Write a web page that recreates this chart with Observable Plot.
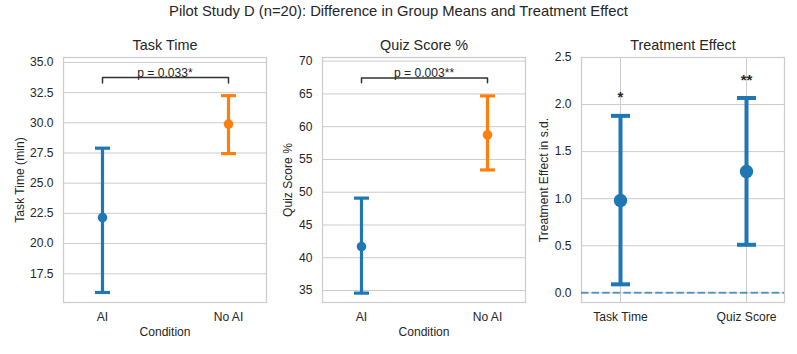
<!DOCTYPE html>
<html><head><meta charset="utf-8">
<script src="https://cdn.jsdelivr.net/npm/d3@7"></script>
<script src="https://cdn.jsdelivr.net/npm/@observablehq/plot@0.6"></script>
<style>
body{margin:0;background:#fff;font-family:"Liberation Sans",Arial,sans-serif;}
#wrap{position:relative;width:797px;height:354px;overflow:hidden;background:#fff;}
#title{position:absolute;left:0;top:3px;width:797px;text-align:center;font-size:14.8px;color:#262626;}
.panel{position:absolute;top:30px;}
</style></head><body>
<div id="wrap"><div id="title">Pilot Study D (n=20): Difference in Group Means and Treatment Effect</div></div>
<script>
// ---- data ----
const conditions = ["AI", "No AI"];
const condColors = ["#1f77b4", "#ff7f0e"];
const taskMean = [22.15, 29.9];
const taskLow = [15.95, 27.45];
const taskHigh = [27.9, 32.25];
const quizMean = [41.7, 58.75];
const quizLow = [34.6, 53.4];
const quizHigh = [49.1, 64.7];
const effects = ["Task Time", "Quiz Score"];
const effMean = [0.98, 1.29];
const effLow = [0.09, 0.51];
const effHigh = [1.88, 2.07];
const effStars = ["*", "**"];
const starY = [2.08, 2.26];
const taskTicks = [17.5, 20, 22.5, 25, 27.5, 30, 32.5, 35];
const quizTicks = [35, 40, 45, 50, 55, 60, 65, 70];
const effTicks = [0, 0.5, 1, 1.5, 2, 2.5];
const pTask = "p = 0.033*";
const pQuiz = "p = 0.003**";
const taskBracket = [33.3, 33.75];
const quizBracket = [66.7, 67.45];

const FONT = "'Liberation Sans', Arial, sans-serif";
const GRID = "#cccccc";
const FS = 12.1;
const cap = {draw(ctx, size) { const w = Math.sqrt(size / Math.PI); ctx.moveTo(-w, 0); ctx.lineTo(w, 0); }};

function groupPanel({means, lows, highs, ticks, domain, fmt, title, ylabel, ylabelDx, pText, bracket, width, marginLeft, marginRight, left}) {
  const rows = conditions.map((c, i) => ({c, m: means[i], lo: lows[i], hi: highs[i], col: condColors[i]}));
  const br = [
    {x: conditions[0], y: bracket[0]}, {x: conditions[0], y: bracket[1]},
    {x: conditions[1], y: bracket[1]}, {x: conditions[1], y: bracket[0]}
  ];
  const p = Plot.plot({
    width, height: 324, marginLeft, marginRight, marginTop: 27, marginBottom: 52,
    style: {fontFamily: FONT, fontSize: FS + "px", color: "#262626", background: "transparent", overflow: "visible"},
    x: {type: "point", domain: conditions, padding: 0.3},
    y: {domain},
    marks: [
      Plot.gridY(ticks, {stroke: GRID, strokeOpacity: 1, strokeWidth: 1}),
      Plot.frame({stroke: GRID, strokeWidth: 1.25}),
      Plot.axisY(ticks, {tickSize: 0, tickPadding: 10, tickFormat: fmt, label: null, fontSize: FS}),
      Plot.axisX({tickSize: 0, tickPadding: 10, label: null, fontSize: FS}),
      Plot.ruleX(rows, {x: "c", y1: "lo", y2: "hi", stroke: "col", strokeWidth: 3.2}),
      Plot.dot(rows, {x: "c", y: "lo", symbol: cap, r: 7.5, stroke: "col", strokeWidth: 3.2, fill: "none"}),
      Plot.dot(rows, {x: "c", y: "hi", symbol: cap, r: 7.5, stroke: "col", strokeWidth: 3.2, fill: "none"}),
      Plot.dot(rows, {x: "c", y: "m", r: 4.8, fill: "col", stroke: "none"}),
      Plot.line(br, {x: "x", y: "y", stroke: "#333333", strokeWidth: 1.5}),
      Plot.text([pText], {text: d => d, y: [bracket[1]], frameAnchor: "middle", lineAnchor: "bottom", dy: -1, fontSize: FS}),
      Plot.text([title], {text: d => d, frameAnchor: "top", dy: -12, lineAnchor: "middle", fontSize: 14.4}),
      Plot.text([ylabel], {text: d => d, frameAnchor: "left", dx: ylabelDx, rotate: -90, textAnchor: "middle", lineAnchor: "middle", fontSize: FS}),
      Plot.text(["Condition"], {text: d => d, frameAnchor: "bottom", dy: 30, lineAnchor: "middle", fontSize: FS})
    ]
  });
  p.classList.add("panel");
  p.style.left = left + "px";
  return p;
}

const wrap = document.getElementById("wrap");
wrap.appendChild(groupPanel({
  means: taskMean, lows: taskLow, highs: taskHigh, ticks: taskTicks, domain: [15.12, 35.41],
  fmt: d => d.toFixed(1), title: "Task Time", ylabel: "Task Time (min)", ylabelDx: -43,
  pText: pTask, bracket: taskBracket, width: 270, marginLeft: 63, marginRight: 4, left: 0
}));
wrap.appendChild(groupPanel({
  means: quizMean, lows: quizLow, highs: quizHigh, ticks: quizTicks, domain: [33.17, 70.56],
  fmt: d => d.toFixed(0), title: "Quiz Score %", ylabel: "Quiz Score %", ylabelDx: -34,
  pText: pQuiz, bracket: quizBracket, width: 260, marginLeft: 52, marginRight: 5, left: 270
}));

// Treatment effect panel
const effRows = effects.map((e, i) => ({e, m: effMean[i], lo: effLow[i], hi: effHigh[i], s: effStars[i], sy: starY[i]}));
const eff = Plot.plot({
  width: 267, height: 324, marginLeft: 51, marginRight: 13, marginTop: 27, marginBottom: 52,
  style: {fontFamily: FONT, fontSize: FS + "px", color: "#262626", background: "transparent", overflow: "visible"},
  x: {type: "point", domain: effects, padding: 0.3},
  y: {domain: [-0.103, 2.5]},
  marks: [
    Plot.gridY(effTicks, {stroke: GRID, strokeOpacity: 1, strokeWidth: 1}),
    Plot.gridX(effects, {stroke: GRID, strokeOpacity: 1, strokeWidth: 1}),
    Plot.frame({stroke: GRID, strokeWidth: 1.25}),
    Plot.axisY(effTicks, {tickSize: 0, tickPadding: 10, tickFormat: d => d.toFixed(1), label: null, fontSize: FS}),
    Plot.axisX({tickSize: 0, tickPadding: 10, label: null, fontSize: FS}),
    Plot.ruleY([0], {stroke: "#1f77b4", strokeOpacity: 0.7, strokeWidth: 2, strokeDasharray: "7.4,3.2"}),
    Plot.ruleX(effRows, {x: "e", y1: "lo", y2: "hi", stroke: "#1f77b4", strokeWidth: 4}),
    Plot.dot(effRows, {x: "e", y: "lo", symbol: cap, r: 9.5, stroke: "#1f77b4", strokeWidth: 4, fill: "none"}),
    Plot.dot(effRows, {x: "e", y: "hi", symbol: cap, r: 9.5, stroke: "#1f77b4", strokeWidth: 4, fill: "none"}),
    Plot.dot(effRows, {x: "e", y: "m", r: 6.7, fill: "#1f77b4", stroke: "none"}),
    Plot.text(effRows, {x: "e", y: "sy", text: "s", lineAnchor: "middle", fontSize: 15, fontWeight: "bold"}),
    Plot.text(["Treatment Effect"], {text: d => d, frameAnchor: "top", dy: -12, lineAnchor: "middle", fontSize: 14.4}),
    Plot.text(["Treatment Effect in s.d."], {text: d => d, frameAnchor: "left", dx: -37, rotate: -90, textAnchor: "middle", lineAnchor: "middle", fontSize: FS})
  ]
});
eff.classList.add("panel");
eff.style.left = "530px";
wrap.appendChild(eff);
</script>
</body></html>
